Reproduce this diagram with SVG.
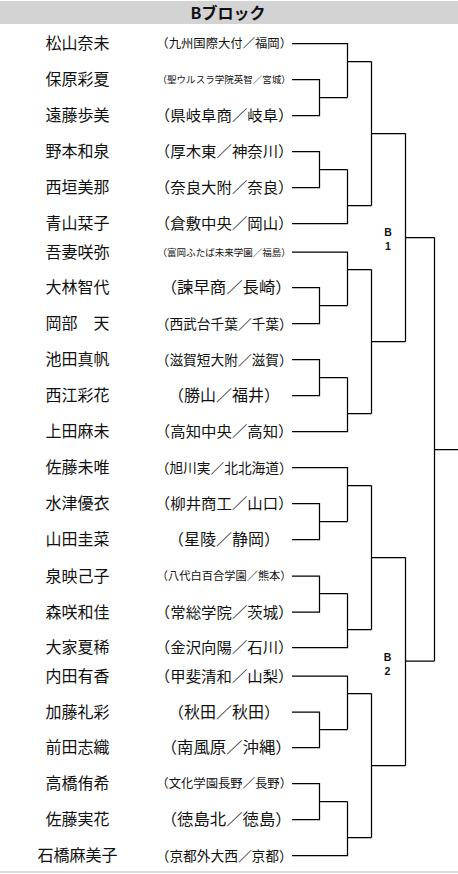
<svg xmlns="http://www.w3.org/2000/svg" width="458" height="874" viewBox="0 0 458 874">
<style>
text{font-family:"Noto Sans CJK JP","Noto Sans CJK SC",sans-serif;fill:#111}
.nm{font-size:16px;text-anchor:middle}
.sc{text-anchor:middle}
.hd{font-size:16px;font-weight:bold;text-anchor:middle}
.lb{font-family:"Liberation Sans",Arial,sans-serif;font-size:10.5px;font-weight:bold;text-anchor:middle}
.br{fill:none;stroke:#000;stroke-width:1.25}
</style>
<rect x="0" y="0" width="458" height="874" fill="#fff"/>
<g id="header">
<rect x="0" y="1" width="458" height="23" fill="#d3d3d3"/>
<text class="hd" x="228" y="19">Bブロック</text>
</g>
<g id="p1"><text class="nm" x="77.5" y="49">松山奈未</text><text class="sc" x="224.2" y="48.2" font-size="12.3" textLength="135.7" lengthAdjust="spacingAndGlyphs">（九州国際大付／福岡）</text></g>
<g id="p2"><text class="nm" x="77.5" y="85">保原彩夏</text><text class="sc" x="224.2" y="83.1" font-size="9.5" textLength="133.3" lengthAdjust="spacingAndGlyphs">（聖ウルスラ学院英智／宮城）</text></g>
<g id="p3"><text class="nm" x="77.5" y="121">遠藤歩美</text><text class="sc" x="224.2" y="121" font-size="15" textLength="138.7" lengthAdjust="spacingAndGlyphs">（県岐阜商／岐阜）</text></g>
<g id="p4"><text class="nm" x="77.5" y="157">野本和泉</text><text class="sc" x="224.2" y="157" font-size="15" textLength="138.7" lengthAdjust="spacingAndGlyphs">（厚木東／神奈川）</text></g>
<g id="p5"><text class="nm" x="77.5" y="193">西垣美那</text><text class="sc" x="224.2" y="193" font-size="15" textLength="138.7" lengthAdjust="spacingAndGlyphs">（奈良大附／奈良）</text></g>
<g id="p6"><text class="nm" x="77.5" y="229">青山栞子</text><text class="sc" x="224.2" y="229" font-size="15" textLength="138.7" lengthAdjust="spacingAndGlyphs">（倉敷中央／岡山）</text></g>
<g id="p7"><text class="nm" x="77.5" y="258">吾妻咲弥</text><text class="sc" x="224.2" y="255.6" font-size="9.5" textLength="133.3" lengthAdjust="spacingAndGlyphs">（富岡ふたば未来学園／福島）</text></g>
<g id="p8"><text class="nm" x="77.5" y="293">大林智代</text><text class="sc" x="226.2" y="293" font-size="15.5" textLength="131" lengthAdjust="spacingAndGlyphs">（諫早商／長崎）</text></g>
<g id="p9"><text class="nm" x="77.5" y="329">岡部　天</text><text class="sc" x="224.2" y="328.5" font-size="13.7" textLength="137" lengthAdjust="spacingAndGlyphs">（西武台千葉／千葉）</text></g>
<g id="p10"><text class="nm" x="77.5" y="365">池田真帆</text><text class="sc" x="224.2" y="364.5" font-size="13.7" textLength="137" lengthAdjust="spacingAndGlyphs">（滋賀短大附／滋賀）</text></g>
<g id="p11"><text class="nm" x="77.5" y="401">西江彩花</text><text class="sc" x="224" y="401" font-size="15.5" textLength="112" lengthAdjust="spacingAndGlyphs">（勝山／福井）</text></g>
<g id="p12"><text class="nm" x="77.5" y="437">上田麻未</text><text class="sc" x="224.2" y="437" font-size="15" textLength="138.7" lengthAdjust="spacingAndGlyphs">（高知中央／高知）</text></g>
<g id="p13"><text class="nm" x="77.5" y="473">佐藤未唯</text><text class="sc" x="224.2" y="472.5" font-size="13.7" textLength="137" lengthAdjust="spacingAndGlyphs">（旭川実／北北海道）</text></g>
<g id="p14"><text class="nm" x="77.5" y="509">水津優衣</text><text class="sc" x="224.2" y="509" font-size="15" textLength="138.7" lengthAdjust="spacingAndGlyphs">（柳井商工／山口）</text></g>
<g id="p15"><text class="nm" x="77.5" y="545">山田圭菜</text><text class="sc" x="224" y="545" font-size="15.5" textLength="112" lengthAdjust="spacingAndGlyphs">（星陵／静岡）</text></g>
<g id="p16"><text class="nm" x="77.5" y="582">泉映己子</text><text class="sc" x="224.2" y="580.3" font-size="11.2" textLength="134.8" lengthAdjust="spacingAndGlyphs">（八代白百合学園／熊本）</text></g>
<g id="p17"><text class="nm" x="77.5" y="618">森咲和佳</text><text class="sc" x="224.2" y="618" font-size="15" textLength="138.7" lengthAdjust="spacingAndGlyphs">（常総学院／茨城）</text></g>
<g id="p18"><text class="nm" x="77.5" y="653">大家夏稀</text><text class="sc" x="224.2" y="653" font-size="15" textLength="138.7" lengthAdjust="spacingAndGlyphs">（金沢向陽／石川）</text></g>
<g id="p19"><text class="nm" x="77.5" y="682">内田有香</text><text class="sc" x="224.2" y="682" font-size="15" textLength="138.7" lengthAdjust="spacingAndGlyphs">（甲斐清和／山梨）</text></g>
<g id="p20"><text class="nm" x="77.5" y="718">加藤礼彩</text><text class="sc" x="224" y="718" font-size="15.5" textLength="112" lengthAdjust="spacingAndGlyphs">（秋田／秋田）</text></g>
<g id="p21"><text class="nm" x="77.5" y="753">前田志織</text><text class="sc" x="226.2" y="753" font-size="15.5" textLength="131" lengthAdjust="spacingAndGlyphs">（南風原／沖縄）</text></g>
<g id="p22"><text class="nm" x="77.5" y="789">高橋侑希</text><text class="sc" x="224.2" y="788.2" font-size="12.3" textLength="135.7" lengthAdjust="spacingAndGlyphs">（文化学園長野／長野）</text></g>
<g id="p23"><text class="nm" x="77.5" y="825">佐藤実花</text><text class="sc" x="226.2" y="825" font-size="15.5" textLength="131" lengthAdjust="spacingAndGlyphs">（徳島北／徳島）</text></g>
<g id="p24"><text class="nm" x="77.5" y="861">石橋麻美子</text><text class="sc" x="224.2" y="860.5" font-size="13.7" textLength="137" lengthAdjust="spacingAndGlyphs">（京都外大西／京都）</text></g>
<g id="label-b1"><text class="lb" x="388" y="235.5">B</text><text class="lb" x="388" y="250">1</text></g>
<g id="label-b2"><text class="lb" x="387.5" y="660.5">B</text><text class="lb" x="387.5" y="675">2</text></g>
<g id="connectors" class="br">
<path d="M292 43.5H347.5V97.5M292 79.5H319.5V115.5H292M319.5 97.5H347.5M347.5 61.5H371.5"/>
<path d="M292 151.5H319.5V187.5H292M319.5 169.5H347.5M292 223.5H347.5V169.5M347.5 205.5H371.5"/>
<path d="M371.5 61.5V205.5M371.5 133.5H405.5"/>
<path d="M292 252H347.5V305.5M292 287.5H319.5V323.5H292M319.5 305.5H347.5M347.5 269.5H371.5"/>
<path d="M292 359.5H319.5V395.5H292M319.5 377.5H347.5M292 431.5H347.5V377.5M347.5 413.5H371.5"/>
<path d="M371.5 269.5V413.5M371.5 341.5H405.5M405.5 133.5V341.5M405.5 237.5H434.5"/>
<path d="M434.5 237.5V661M434.5 449.5H458"/>
<path d="M292 467.5H347.5V521.5M292 503.5H319.5V539.5H292M319.5 521.5H347.5M347.5 485.5H371.5"/>
<path d="M292 576H319.5V612H292M319.5 593.5H347.5M292 647.5H347.5V593.5M347.5 629.5H371.5"/>
<path d="M371.5 485.5V629.5M371.5 557.5H405.5"/>
<path d="M292 676H347.5V729.5M292 712H319.5V747.5H292M319.5 729.5H347.5M347.5 693.5H371.5"/>
<path d="M292 783.5H319.5V819.5H292M319.5 801.5H347.5M292 855.5H347.5V801.5M347.5 837.5H371.5"/>
<path d="M371.5 693.5V837.5M371.5 765.5H405.5M405.5 557.5V765.5M405.5 661H434.5"/>
</g>
<line x1="0" y1="872" x2="458" y2="872" stroke="#d0d0d0" stroke-width="1.5"/>
</svg>
